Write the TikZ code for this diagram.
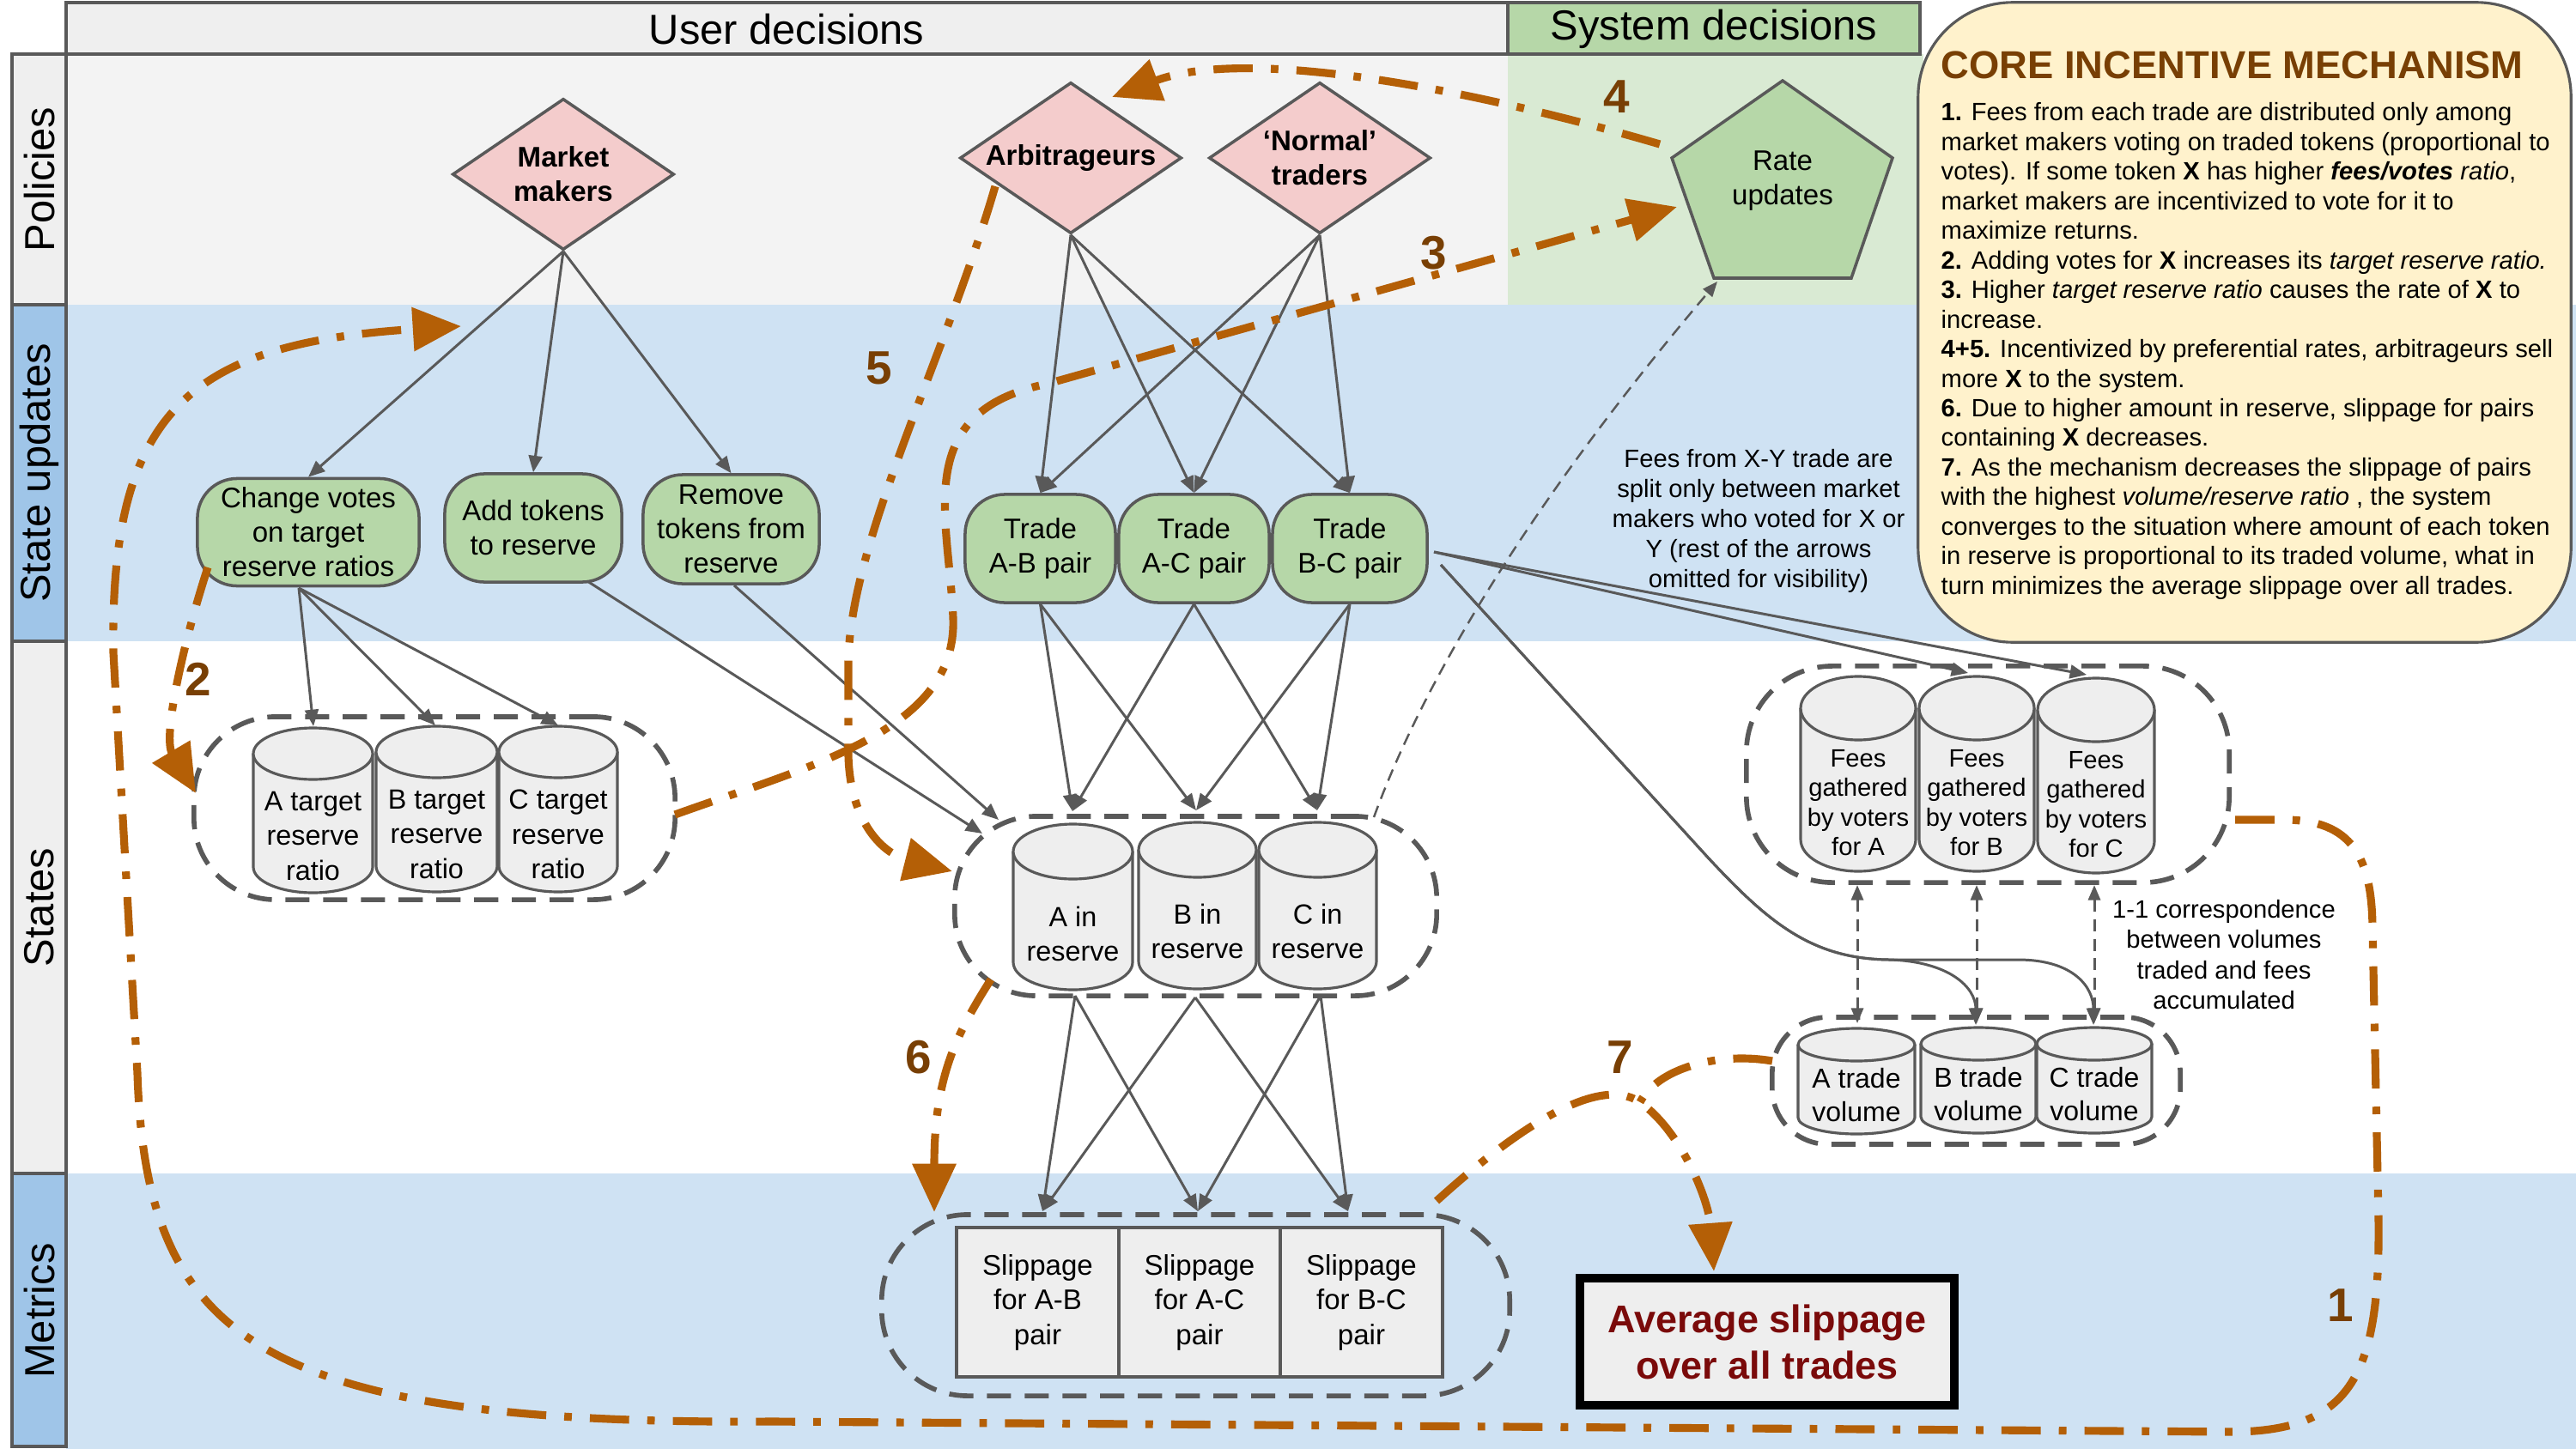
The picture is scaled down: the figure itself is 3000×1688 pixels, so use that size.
\documentclass[tikz,border=0pt]{standalone}
\usepackage{fontspec}
\setmainfont{Liberation Sans}
\usetikzlibrary{arrows.meta,shapes.geometric}
\definecolor{hdrgray}{HTML}{EFEFEF}
\definecolor{lanegray}{HTML}{F3F3F3}
\definecolor{nodegreen}{HTML}{B6D7A8}
\definecolor{lanegreen}{HTML}{D9EAD3}
\definecolor{laneblue}{HTML}{CFE2F3}
\definecolor{cellblue}{HTML}{9FC5E8}
\definecolor{pinkfill}{HTML}{F4CCCC}
\definecolor{cylfill}{HTML}{EEEEEE}
\definecolor{edgegray}{HTML}{595959}
\definecolor{orng}{HTML}{B45F06}
\definecolor{brn}{HTML}{783F04}
\definecolor{coreyellow}{HTML}{FFF2CC}
\definecolor{avgred}{HTML}{7A0A0A}
% #1 xl, #2 xr, #3 ytop, #4 ybottom, #5 ry
\newcommand{\cylshape}[5]{%
  \path[cylbody] (#1,{#3+#5}) -- (#1,{#4-#5})
    .. controls (#1,{#4-0.448*#5}) and ({(#1+#2)/2-0.276*(#2-#1)},#4) .. ({(#1+#2)/2},#4)
    .. controls ({(#1+#2)/2+0.276*(#2-#1)},#4) and (#2,{#4-0.448*#5}) .. (#2,{#4-#5})
    -- (#2,{#3+#5});
  \path[cylbody] ({(#1+#2)/2},{#3+#5}) ellipse [x radius={(#2-#1)/2}, y radius=#5];
}
\begin{document}
\begin{tikzpicture}[x=0.01cm,y=-0.01cm,
  lanecell/.style={draw=edgegray,line width=0.9pt},
  lanelbl/.style={rotate=90,font=\fontsize{13.9}{16}\selectfont,inner sep=0pt},
  hdrtxt/.style={font=\fontsize{13.9}{16}\selectfont,inner sep=0pt},
  polnode/.style={diamond,aspect=1.46,draw=edgegray,fill=pinkfill,line width=1pt,minimum width=2.58cm,minimum height=1.76cm,inner sep=0pt,align=center,font=\fontsize{9.4}{11.4}\selectfont\bfseries},
  sunode/.style={rectangle,rounded corners=0.46cm,draw=edgegray,fill=nodegreen,line width=1pt,inner sep=0pt,align=center,font=\fontsize{9.4}{11.4}\selectfont},
  grpbox/.style={rectangle,draw=edgegray,line width=1.6pt,dash pattern=on 8pt off 4.5pt,inner sep=0pt},
  cylbody/.style={draw=edgegray,fill=cylfill,line width=0.9pt},
  cyltext/.style={align=center,inner sep=0pt,font=\fontsize{9.2}{11.6}\selectfont},
  feetext/.style={align=center,inner sep=0pt,font=\fontsize{8.3}{9.8}\selectfont},
  voltext/.style={align=center,inner sep=0pt,font=\fontsize{9.1}{11.1}\selectfont},
  slipbox/.style={rectangle,draw=edgegray,fill=cylfill,line width=0.9pt,minimum height=1.74cm,inner sep=0pt,align=center,font=\fontsize{9.4}{11.5}\selectfont},
  grayarrow/.style={draw=edgegray,line width=0.85pt,-{Triangle[length=5.5pt,width=4.5pt]}},
  dasharrow/.style={draw=edgegray,line width=0.85pt,dash pattern=on 4pt off 2.5pt,{Triangle[length=5pt,width=4pt]}-{Triangle[length=5pt,width=4pt]}},
  thindash/.style={draw=edgegray,line width=0.7pt,dash pattern=on 4pt off 2.5pt,-{Triangle[length=5pt,width=4pt]}},
  incent/.style={draw=orng,line width=2.6pt,dash pattern=on 13pt off 6pt on 2.5pt off 6pt,-{Triangle[length=16pt,width=14pt]}},
  incentline/.style={draw=orng,line width=2.6pt,dash pattern=on 13pt off 6pt on 2.5pt off 6pt},
  numlbl/.style={text=brn,font=\fontsize{15.6}{18}\selectfont\bfseries,inner sep=0pt},
  notetxt/.style={align=center,inner sep=0pt,font=\fontsize{8.3}{10}\selectfont},
]
\useasboundingbox (0,0) rectangle (3000,1688);
% ---------- lanes ----------
\fill[lanegray] (77,63) rectangle (1756,355);
\fill[lanegreen] (1756,63) rectangle (2240,355);
\fill[laneblue] (77,355) rectangle (3000,747);
\fill[laneblue] (77,1367) rectangle (3000,1688);
\draw[lanecell,fill=hdrgray] (14,63) rectangle (77,355);
\draw[lanecell,fill=cellblue] (14,355) rectangle (77,747);
\draw[lanecell,fill=hdrgray] (14,747) rectangle (77,1367);
\draw[lanecell,fill=cellblue] (14,1367) rectangle (77,1685);
\draw[lanecell,fill=hdrgray] (77,3) rectangle (1756,63);
\draw[lanecell,fill=nodegreen] (1756,3) rectangle (2236,63);
\node[hdrtxt] (hdruser) at (916,34) {User decisions};
\node[hdrtxt] (hdrsys) at (1996,34) {System decisions};
\node[lanelbl] (lpol) at (46,209) {Policies};
\node[lanelbl] (lsu) at (46,551) {State updates};
\node[lanelbl] (lst) at (46,1057) {States};
\node[lanelbl] (lmet) at (46,1527) {Metrics};
% ---------- core box ----------
\node[draw=edgegray,line width=0.9pt,fill=coreyellow,rounded corners=1.1cm,minimum width=7.6cm,minimum height=7.45cm,inner sep=0pt] (core) at (2614,375.5) {};
\node[anchor=base west,inner sep=0pt,text=brn,font=\fontsize{12.9}{14}\selectfont\bfseries] (coretitle) at (2260,92) {CORE INCENTIVE MECHANISM};
\node[anchor=north west,inner sep=0pt,align=left,font=\fontsize{8.3}{9.8}\selectfont] (corebody) at (2260,119) {%
\textbf{1.} Fees from each trade are distributed only among\\
market makers voting on traded tokens (proportional to\\
votes). If some token \textbf{X} has higher \textbf{\textit{fees/votes}} \textit{ratio},\\
market makers are incentivized to vote for it to\\
maximize returns.\\
\textbf{2.} Adding votes for \textbf{X} increases its \textit{target reserve ratio.}\\
\textbf{3.} Higher \textit{target reserve ratio} causes the rate of \textbf{X} to\\
increase.\\
\textbf{4+5.} Incentivized by preferential rates, arbitrageurs sell\\
more \textbf{X} to the system.\\
\textbf{6.} Due to higher amount in reserve, slippage for pairs\\
containing \textbf{X} decreases.\\
\textbf{7.} As the mechanism decreases the slippage of pairs\\
with the highest \textit{volume/reserve ratio} , the system\\
converges to the situation where amount of each token\\
in reserve is proportional to its traded volume, what in\\
turn minimizes the average slippage over all trades.};
% ---------- policies ----------
\node[polnode] (mm) at (656,203) {Market\\makers};
\node[polnode] (arb) at (1247,184) {Arbitrageurs};
\node[polnode] (nt) at (1537,184) {‘Normal’\\traders};
\draw[draw=edgegray,fill=nodegreen,line width=1pt] (2076,94) -- (2204,184) -- (2156,324) -- (1996,324) -- (1947,184) -- cycle;
\node[align=center,inner sep=0pt,font=\fontsize{9.4}{11.4}\selectfont] (rate) at (2076,211) {Rate\\updates};
\coordinate (rate-b) at (2000,328);
\coordinate (rate-l) at (1953,241);
\coordinate (rate-ul) at (1933,168);
% ---------- state updates ----------
\node[sunode,minimum width=2.58cm,minimum height=1.25cm] (cv) at (359,620) {Change votes\\on target\\reserve ratios};
\node[sunode,minimum width=2.06cm,minimum height=1.26cm] (add) at (621,615) {Add tokens\\to reserve};
\node[sunode,minimum width=2.05cm,minimum height=1.27cm] (rem) at (851.5,616.5) {Remove\\tokens from\\reserve};
\node[sunode,minimum width=1.75cm,minimum height=1.26cm] (tab) at (1211.5,639) {Trade\\A-B pair};
\node[sunode,minimum width=1.75cm,minimum height=1.26cm] (tac) at (1390.5,639) {Trade\\A-C pair};
\node[sunode,minimum width=1.80cm,minimum height=1.26cm] (tbc) at (1572,639) {Trade\\B-C pair};
\node[notetxt] (feenote) at (2048,607) {Fees from X-Y trade are\\split only between market\\makers who voted for X or\\Y (rest of the arrows\\omitted for visibility)};
% ---------- states: groups ----------
\node[grpbox,minimum width=5.60cm,minimum height=2.13cm,rounded corners=0.95cm] (trg) at (506,941.5) {};
\node[grpbox,minimum width=5.61cm,minimum height=2.09cm,rounded corners=0.95cm] (resg) at (1392.5,1055.5) {};
\node[grpbox,minimum width=5.62cm,minimum height=2.52cm,rounded corners=1.0cm] (feeg) at (2315,902) {};
\node[grpbox,minimum width=4.75cm,minimum height=1.48cm,rounded corners=0.65cm] (volg) at (2301.5,1259) {};
\node[grpbox,minimum width=7.31cm,minimum height=2.11cm,rounded corners=1.0cm] (slipg) at (1392.5,1520.5) {};
% ---------- cylinders ----------
\cylshape{295}{434}{848}{1040}{30}
\cylshape{438}{579}{846}{1039}{30}
\cylshape{581}{719}{846}{1039}{30}
\node[cyltext] (Atr) at (364.5,974) {A target\\reserve\\ratio};
\node[cyltext] (Btr) at (508.5,972) {B target\\reserve\\ratio};
\node[cyltext] (Ctr) at (650,972) {C target\\reserve\\ratio};
\cylshape{1180}{1319}{960}{1153}{32}
\cylshape{1326}{1463}{958}{1152}{32}
\cylshape{1466}{1603}{958}{1152}{32}
\node[cyltext] (Ares) at (1249.5,1088) {A in\\reserve};
\node[cyltext] (Bres) at (1394.5,1085) {B in\\reserve};
\node[cyltext] (Cres) at (1534.5,1085) {C in\\reserve};
\cylshape{2097}{2231}{788}{1015}{37}
\cylshape{2235}{2369}{788}{1015}{37}
\cylshape{2373}{2509}{790}{1017}{37}
\node[feetext] (Afee) at (2164,935) {Fees\\gathered\\by voters\\for A};
\node[feetext] (Bfee) at (2302,935) {Fees\\gathered\\by voters\\for B};
\node[feetext] (Cfee) at (2441,937) {Fees\\gathered\\by voters\\for C};
\cylshape{2094}{2230}{1198}{1321}{19}
\cylshape{2237}{2371}{1197}{1320}{19}
\cylshape{2372}{2506}{1197}{1320}{19}
\node[voltext] (Avol) at (2162,1276) {A trade\\volume};
\node[voltext] (Bvol) at (2304,1275) {B trade\\volume};
\node[voltext] (Cvol) at (2439,1275) {C trade\\volume};
\node[notetxt] (corrnote) at (2590,1112) {1-1 correspondence\\between volumes\\traded and fees\\accumulated};
% ---------- metrics ----------
\node[slipbox,minimum width=1.89cm] (sab) at (1208.5,1517) {Slippage\\for A-B\\pair};
\node[slipbox,minimum width=1.88cm] (sac) at (1397,1517) {Slippage\\for A-C\\pair};
\node[slipbox,minimum width=1.89cm] (sbc) at (1585.5,1517) {Slippage\\for B-C\\pair};
\node[draw=black,line width=3pt,fill=cylfill,minimum width=4.36cm,minimum height=1.48cm,inner sep=0pt,align=center,text=avgred,font=\fontsize{12.8}{15.4}\selectfont\bfseries] (avg) at (2058,1563) {Average slippage\\over all trades};
% ---------- named points ----------
\coordinate (cv-o) at (348,685);
\coordinate (Atr-t) at (365,846);
\coordinate (Btr-t) at (507,845);
\coordinate (Ctr-t) at (650,845);
\coordinate (add-o) at (684,677);
\coordinate (rem-o) at (855,682);
\coordinate (resg-w1) at (1144,971);
\coordinate (resg-w2) at (1163,955);
\coordinate (Ares-t) at (1249,945);
\coordinate (Bres-t) at (1393,944);
\coordinate (Cres-t) at (1534,944);
\coordinate (Ares-b) at (1252,1160);
\coordinate (Bres-b) at (1392,1162);
\coordinate (Cres-b) at (1538,1160);
\coordinate (sab-t) at (1214,1411);
\coordinate (sac-t) at (1395,1411);
\coordinate (sbc-t) at (1570,1411);
\coordinate (tbc-e1) at (1670,643);
\coordinate (tbc-v) at (1678,658);
\coordinate (Bfee-t) at (2292,784);
\coordinate (Cfee-t) at (2430,786);
\coordinate (Bvol-t) at (2301,1194);
\coordinate (Cvol-t) at (2438,1194);
\coordinate (resg-ne) at (1600,952);
\coordinate (Afee-b) at (2163,1031);
\coordinate (Bfee-b) at (2302,1031);
\coordinate (Cfee-b) at (2439,1031);
\coordinate (Avol-t) at (2163,1192);
\coordinate (Bvol-tt) at (2302,1192);
\coordinate (Cvol-tt) at (2439,1192);
% ---------- gray connectors ----------
\draw[grayarrow] (mm.south) -- (cv.north);
\draw[grayarrow] (mm.south) -- (add.north);
\draw[grayarrow] (mm.south) -- (rem.north);
\draw[grayarrow] (cv-o) -- (Atr-t);
\draw[grayarrow] (cv-o) -- (Btr-t);
\draw[grayarrow] (cv-o) -- (Ctr-t);
\draw[grayarrow] (add-o) -- (resg-w1);
\draw[grayarrow] (rem-o) -- (resg-w2);
\foreach \src in {arb,nt}{
  \draw[grayarrow] (\src.south) -- (tab.north);
  \draw[grayarrow] (\src.south) -- (tac.north);
  \draw[grayarrow] (\src.south) -- (tbc.north);
}
\draw[grayarrow] (tab.south) -- (Ares-t);
\draw[grayarrow] (tab.south) -- (Bres-t);
\draw[grayarrow] (tac.south) -- (Ares-t);
\draw[grayarrow] (tac.south) -- (Cres-t);
\draw[grayarrow] (tbc.south) -- (Bres-t);
\draw[grayarrow] (tbc.south) -- (Cres-t);
\draw[grayarrow] (Ares-b) -- (sab-t);
\draw[grayarrow] (Ares-b) -- (sac-t);
\draw[grayarrow] (Bres-b) -- (sab-t);
\draw[grayarrow] (Bres-b) -- (sbc-t);
\draw[grayarrow] (Cres-b) -- (sac-t);
\draw[grayarrow] (Cres-b) -- (sbc-t);
\draw[grayarrow] (tbc-e1) -- (Bfee-t);
\draw[grayarrow] (tbc-e1) -- (Cfee-t);
\draw[grayarrow] (tbc-v) -- (1990,1000) .. controls (2060,1075) and (2110,1117) .. (2200,1118) .. controls (2270,1120) and (2301,1150) .. (Bvol-t);
\draw[grayarrow] (tbc-v) -- (1990,1000) .. controls (2060,1075) and (2110,1117) .. (2200,1118) -- (2350,1118) .. controls (2415,1118) and (2438,1150) .. (Cvol-t);
\draw[thindash] (resg-ne) .. controls (1670,760) and (1820,540) .. (rate-b);
\draw[dasharrow] (Afee-b) -- (Avol-t);
\draw[dasharrow] (Bfee-b) -- (Bvol-tt);
\draw[dasharrow] (Cfee-b) -- (Cvol-tt);
% ---------- incentive loop (orange) ----------
\coordinate (o1s) at (2603,955);
\coordinate (o1e) at (537,380);
\coordinate (o2s) at (242,661);
\coordinate (o2e) at (228,924);
\coordinate (o3s) at (786,949);
\coordinate (o4s) at (1933,168);
\coordinate (o4e) at (1295,113);
\coordinate (o5s) at (1159,217);
\coordinate (o5e) at (1109,1015);
\coordinate (o6s) at (1154,1141);
\coordinate (o6e) at (1088,1412);
\coordinate (o7s) at (1673,1399);
\coordinate (o7b) at (2064,1236);
\coordinate (o7m) at (1910,1284);
\coordinate (o7e) at (1996,1481);
\draw[incent] (o1s) -- (2660,955) .. controls (2740,955) and (2762,1000) .. (2763,1080) -- (2770,1420) .. controls (2772,1600) and (2740,1667) .. (2600,1668) -- (900,1656) .. controls (300,1660) and (170,1560) .. (160,1250) -- (132,760) .. controls (128,480) and (220,400) .. (o1e);
\draw[incent] (o2s) .. controls (210,760) and (190,860) .. (o2e);
\draw[incent] (o3s) .. controls (950,890) and (1115,850) .. (1110,720) .. controls (1105,600) and (1060,480) .. (1220,447) -- (rate-l);
\draw[incent] (o4s) .. controls (1700,100) and (1450,55) .. (o4e);
\draw[incent] (o5s) .. controls (1100,420) and (985,640) .. (988,780) -- (988,880) .. controls (990,960) and (1030,995) .. (o5e);
\draw[incent] (o6s) .. controls (1110,1210) and (1088,1260) .. (o6e);
\draw[incent] (o7s) .. controls (1760,1320) and (1860,1250) .. (o7m) .. controls (1960,1320) and (1990,1400) .. (o7e);
\draw[incentline] (o7b) .. controls (2000,1225) and (1930,1245) .. (o7m);
\node[numlbl] (n1) at (2726,1521) {1};
\node[numlbl] (n2) at (231,791) {2};
\node[numlbl] (n3) at (1670,295) {3};
\node[numlbl] (n4) at (1883,113) {4};
\node[numlbl] (n5) at (1024,429) {5};
\node[numlbl] (n6) at (1070,1232) {6};
\node[numlbl] (n7) at (1887,1232) {7};
\end{tikzpicture}
\end{document}
